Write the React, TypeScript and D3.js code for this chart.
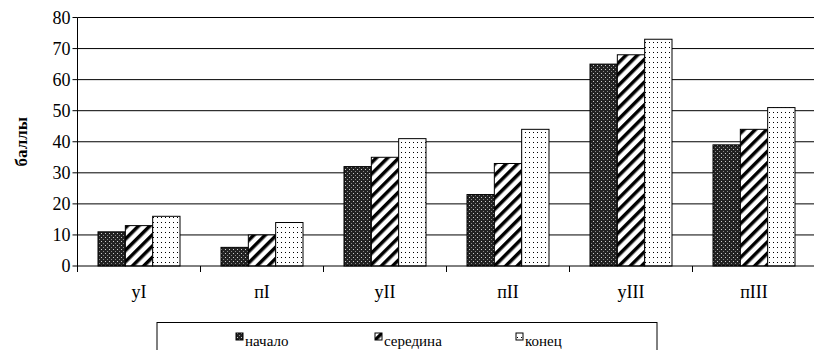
import React, { useEffect, useRef } from "react";
import * as d3 from "d3";

const categories = ["уI", "пI", "уII", "пII", "уIII", "пIII"];
const seriesNames = ["начало", "середина", "конец"];
const nachalo = [11, 6, 32, 23, 65, 39];
const seredina = [13, 10, 35, 33, 68, 44];
const konec = [16, 14, 41, 44, 73, 51];
const yTicks = [0, 10, 20, 30, 40, 50, 60, 70, 80];
const seriesValues = [nachalo, seredina, konec];

const W = 814, H = 350;
const left = 77.5, right = 815.5, top = 17.5, bottom = 266;
const FAMILY = "Liberation Serif";
const fills = ["url(#pDark)", "url(#pDiag)", "url(#pDots)"];

export default function App() {
  const ref = useRef<SVGSVGElement>(null);
  useEffect(() => {
    const svg = d3.select(ref.current);
    svg.selectAll("*").remove();
    const defs = svg.append("defs");
    const p1 = defs.append("pattern").attr("id", "pDark").attr("width", 4).attr("height", 4).attr("patternUnits", "userSpaceOnUse");
    p1.append("rect").attr("width", 4).attr("height", 4).attr("fill", "#222");
    p1.append("rect").attr("x", 1).attr("y", 1).attr("width", 1).attr("height", 1).attr("fill", "#ccc");
    p1.append("rect").attr("x", 3).attr("y", 3).attr("width", 1).attr("height", 1).attr("fill", "#888");
    const p2 = defs.append("pattern").attr("id", "pDiag").attr("width", 8).attr("height", 8).attr("patternUnits", "userSpaceOnUse").attr("patternTransform", "rotate(45)");
    p2.append("rect").attr("width", 8).attr("height", 8).attr("fill", "#fff");
    p2.append("rect").attr("width", 3.5).attr("height", 8).attr("fill", "#000");
    const p3 = defs.append("pattern").attr("id", "pDots").attr("width", 4).attr("height", 5).attr("patternUnits", "userSpaceOnUse");
    p3.append("rect").attr("width", 4).attr("height", 5).attr("fill", "#fff");
    p3.append("rect").attr("x", 1).attr("y", 2).attr("width", 1).attr("height", 1).attr("fill", "#000");

    const xOuter = d3.scaleBand<string>().domain(categories).range([left, right]);
    const y = d3.scaleLinear().domain([0, 80]).range([bottom, top]);
    const bw = xOuter.bandwidth() / 4.5; // gap width 150%

    const txt = (g: any, x: number, yy: number, s: string, size: number, anchor = "start", bold = false) =>
      g.append("text").attr("x", x).attr("y", yy).attr("text-anchor", anchor)
        .attr("font-family", FAMILY).style("font-family", FAMILY)
        .attr("font-size", size).attr("font-weight", bold ? "bold" : "normal").text(s);

    yTicks.forEach((t) => {
      if (t > 0) svg.append("line").attr("x1", left).attr("x2", W).attr("y1", y(t)).attr("y2", y(t)).attr("stroke", "#000");
      svg.append("line").attr("x1", left - 5).attr("x2", left).attr("y1", y(t)).attr("y2", y(t)).attr("stroke", "#000");
      txt(svg, left - 7, y(t) + 6, String(t), 18, "end");
    });
    categories.forEach((c, i) => {
      const x0 = xOuter(c)! + (xOuter.bandwidth() - 3 * bw) / 2;
      seriesValues.forEach((vals, s) => {
        svg.append("rect").attr("x", x0 + s * bw).attr("y", y(vals[i])).attr("width", bw)
          .attr("height", y(0) - y(vals[i])).attr("fill", fills[s]).attr("stroke", "#000");
      });
      svg.append("line").attr("x1", xOuter(c)!).attr("x2", xOuter(c)!).attr("y1", bottom).attr("y2", bottom + 6).attr("stroke", "#000");
      txt(svg, xOuter(c)! + xOuter.bandwidth() / 2, 298, c, 18, "middle");
    });
    svg.append("line").attr("x1", left).attr("x2", W).attr("y1", bottom).attr("y2", bottom).attr("stroke", "#000");
    svg.append("line").attr("x1", left).attr("x2", left).attr("y1", top).attr("y2", bottom).attr("stroke", "#000");
    txt(svg, 0, 0, "баллы", 17, "middle", true).attr("transform", `translate(27,${(top + bottom) / 2}) rotate(-90)`);
    svg.append("rect").attr("x", 157).attr("y", 322.5).attr("width", 500).attr("height", 40).attr("fill", "#fff").attr("stroke", "#000");
    seriesNames.forEach((n, s) => {
      const lx = [236, 375, 516][s];
      svg.append("rect").attr("x", lx).attr("y", 333).attr("width", 7).attr("height", 7).attr("fill", fills[s]).attr("stroke", "#000");
      txt(svg, lx + 9, 346, n, 15);
    });
  }, []);
  return <svg ref={ref} width={W} height={H} style={{ position: "absolute", left: 0, top: 0, background: "#fff" }} />;
}
